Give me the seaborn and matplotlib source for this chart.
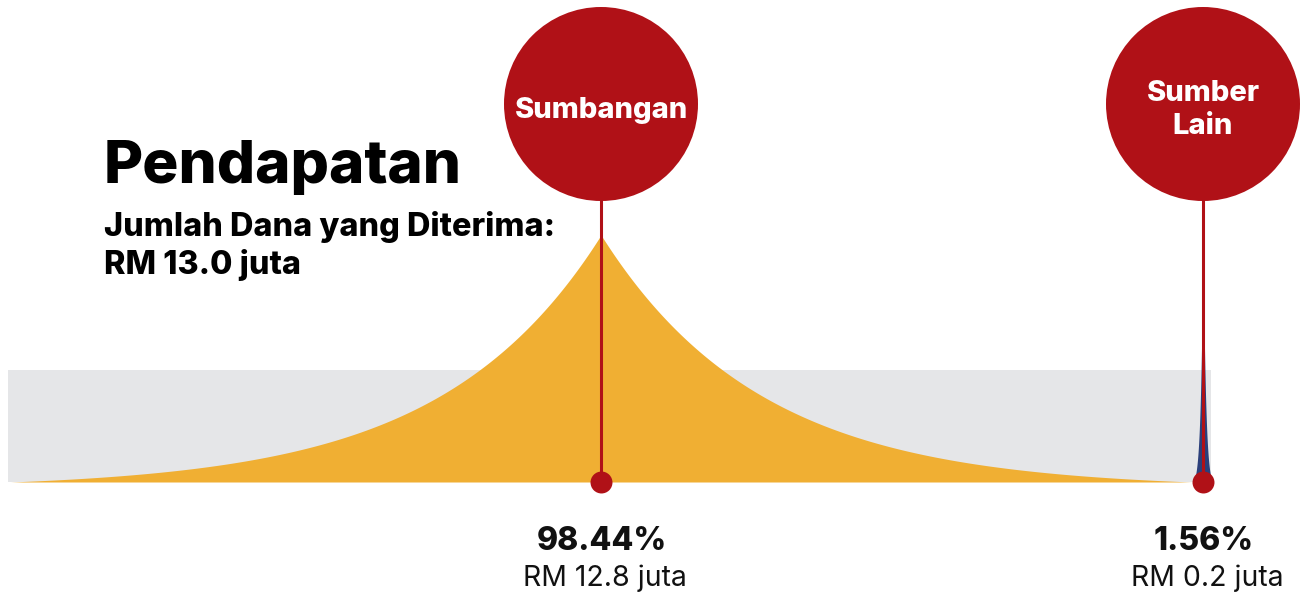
import numpy as np
import matplotlib
matplotlib.use('Agg')
import matplotlib.pyplot as plt
from matplotlib.patches import Circle, Rectangle
import seaborn as sns

# data
categories = ['Sumbangan', 'Sumber Lain']
bubble_labels = ['Sumbangan', 'Sumber\nLain']
shares = [98.44, 1.56]          # % of total income
amounts = [12.8, 0.2]           # RM juta
total = 13.0                    # RM juta

# layout / style
RED = '#B01117'
GRAY = '#E5E6E8'
peak_colors = ['#F0AF33', '#2B3F7A']
centers = [601, 1203]
BASE = 482
PEAK_H = 247
CIRCLE_Y, R = 104, 97
WIDTH_PER_PCT = 6.0

sns.set_theme(style='white')
plt.rcParams['font.family'] = ['Inter', 'DejaVu Sans']

fig = plt.figure(figsize=(13.09, 5.95), dpi=100)
ax = fig.add_axes([0, 0, 1, 1])
ax.set_xlim(0, 1309)
ax.set_ylim(595, 0)
ax.axis('off')

ax.add_patch(Rectangle((8, 370), 1203, BASE - 370, color=GRAY, lw=0, zorder=1))

# peaks: width proportional to share
k = 3.7
for cx, share, col in zip(centers, shares, peak_colors):
    w = share * WIDTH_PER_PCT
    xs = np.linspace(-w, w, 1201)
    t = np.abs(xs) / w
    prof = (np.exp(-k * t) - np.exp(-k)) / (1 - np.exp(-k))
    ax.fill_between(cx + xs, BASE, BASE - PEAK_H * prof, color=col, lw=0, zorder=2)

for cx, lab in zip(centers, bubble_labels):
    ax.plot([cx, cx], [CIRCLE_Y + R - 2, BASE], color=RED, lw=2.2, zorder=3)
    ax.add_patch(Circle((cx, CIRCLE_Y), R, color=RED, lw=0, zorder=4))
    ax.text(cx, CIRCLE_Y + 6, lab, ha='center', va='center', color='white',
            fontsize=21, fontweight='heavy', linespacing=1.3, zorder=5)

sns.scatterplot(x=centers, y=[BASE] * len(centers), s=250, color=RED,
                linewidth=0, ax=ax, zorder=5)

for cx, share, amt in zip(centers, shares, amounts):
    ax.text(cx + 1, 542, f'{share:.2f}%', ha='center', va='center',
            fontsize=23, fontweight='heavy', color='#111111')
    ax.text(cx + 4, 578, f'RM {amt:.1f} juta', ha='center', va='center',
            fontsize=20.5, color='#111111')

ax.text(104, 183, 'Pendapatan', ha='left', va='baseline', fontsize=43.4,
        fontweight='heavy', color='black')
ax.text(104, 236, 'Jumlah Dana yang Diterima:', ha='left', va='baseline',
        fontsize=23.3, fontweight='heavy', color='black')
ax.text(104, 274, f'RM {total:.1f} juta', ha='left', va='baseline',
        fontsize=23.3, fontweight='heavy', color='black')

fig.savefig('out.png', dpi=100)
plt.close()
